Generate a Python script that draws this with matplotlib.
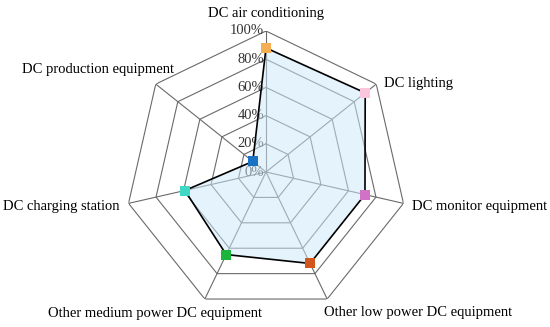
import numpy as np
import matplotlib
matplotlib.use("Agg")
import matplotlib.pyplot as plt

categories = ["DC air conditioning", "DC lighting", "DC monitor equipment",
              "Other low power DC equipment", "Other medium power DC equipment",
              "DC charging station", "DC production equipment"]
values = [88, 90, 72, 72, 65, 59, 12]
marker_colors = ["#F6AE52", "#F9C6DD", "#D272C6", "#D2561C", "#1BB53B", "#3FD8C4", "#1A72C2"]
tick_values = [0, 20, 40, 60, 80, 100]
tick_labels = ["0%", "20%", "40%", "60%", "80%", "100%"]

# label placement (offset pixels from outer vertex, alignment)
label_style = [
    ((0, 17), "center"),
    ((8, 1), "left"),
    ((9, -3), "left"),
    ((-3, -13), "left"),
    ((57, -14), "right"),
    ((-9, -3), "right"),
    ((18, 15), "right"),
]

plt.rcParams['font.family'] = ['Liberation Serif', 'DejaVu Serif']

W, H = 550, 327
fig = plt.figure(figsize=(W / 100, H / 100), dpi=100)
cx, cy, R = 266, 172, 141
ax = fig.add_axes([(cx - R) / W, (H - cy - R) / H, 2 * R / W, 2 * R / H], projection='polar')
ax.set_theta_offset(np.pi / 2)
ax.set_theta_direction(-1)
ax.set_ylim(0, 100)
ax.grid(False)
ax.spines['polar'].set_visible(False)
ax.set_xticks([])
ax.set_yticks([])
ax.patch.set_alpha(0)

n = len(categories)
angles = np.arange(n) * 2 * np.pi / n
closed = np.append(angles, angles[0])

grid_color = "#6a6a6a"
for t in tick_values[1:]:
    ax.plot(closed, [t] * (n + 1), color=grid_color, lw=0.8, zorder=1)
for a in angles:
    ax.plot([a, a], [0, 100], color=grid_color, lw=0.8, zorder=1)

for t, lab in zip(tick_values, tick_labels):
    ax.annotate(lab, xy=(0, t), xytext=(-2, 0), textcoords='offset pixels',
                ha='right', va='center', fontsize=10.5, color='#333333', zorder=2)

vals = np.append(values, values[0])
ax.fill(closed, vals, color=(0.80, 0.91, 0.98), alpha=0.52, zorder=3, lw=0)
ax.plot(closed, vals, color='black', lw=1.2, zorder=4)
for a, v, c in zip(angles, values, marker_colors):
    ax.plot([a], [v], marker='s', ms=7, color=c, mew=0, zorder=5, ls='none')

for a, cat, (off, ha) in zip(angles, categories, label_style):
    ax.annotate(cat, xy=(a, 100), xytext=off, textcoords='offset pixels',
                ha=ha, va='center', fontsize=10.5, color='black', annotation_clip=False)

fig.savefig("out.png", dpi=100)
